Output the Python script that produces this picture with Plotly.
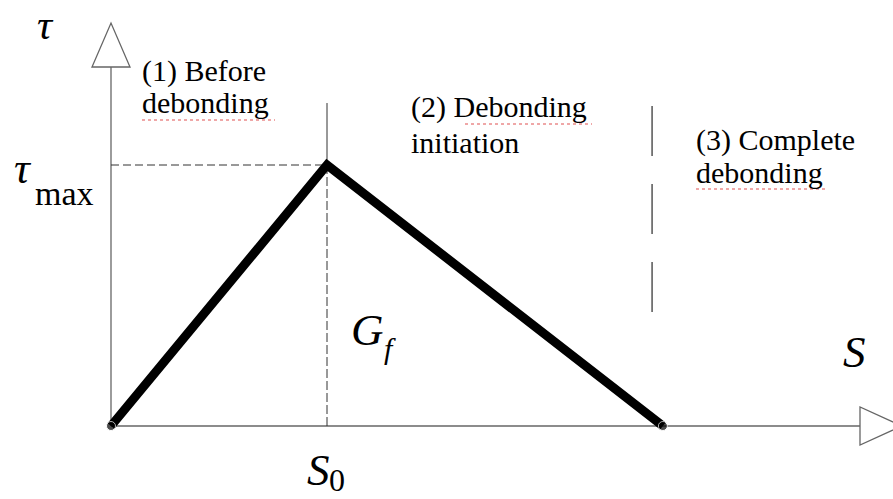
import plotly.graph_objects as go

# ---- data (schematic bilinear bond-slip law, normalised units) ----
slip_points = [0.0, 1.0, 2.555]      # 0, S0, Sf
stress_points = [0.0, 1.0, 0.0]      # 0, tau_max, 0
S0 = 1.0
tau_max = 1.0
zone_boundary = 2.505                 # boundary between zone (2) and (3)

zone_labels = [["(1) Before", "debonding"],
               ["(2) Debonding", "initiation"],
               ["(3) Complete", "debonding"]]

W, H = 893, 499
# axis ranges (plot area fills the whole figure)
x_range = [-0.5139, 3.6204]
y_range = [-0.2797, 1.6322]

def px(x):   # pixel column -> paper
    return x / W

def py(y):   # pixel row -> paper
    return 1 - y / H

AX = "#666666"

fig = go.Figure()

fig.add_trace(go.Scatter(
    x=slip_points, y=stress_points, mode="lines+markers",
    line=dict(color="black", width=9),
    marker=dict(color="black", size=[9, 0, 9]),
    hoverinfo="skip", showlegend=False))

# axes
y_top = 1.3755
x_end = 3.4676
fig.add_shape(type="line", xref="x", yref="y", x0=0, y0=0, x1=0, y1=y_top,
              layer="below", line=dict(color=AX, width=1.3))
fig.add_shape(type="line", xref="x", yref="y", x0=0, y0=0, x1=x_end, y1=0,
              layer="below", line=dict(color=AX, width=1.3))
# hollow arrow heads
hw_x = 19 / 216
hw_y = 19 / 261
fig.add_shape(type="path", xref="x", yref="y",
              path=f"M {-hw_x} {y_top} L {hw_x} {y_top} L 0 1.544 Z",
              fillcolor="white", line=dict(color=AX, width=1.3))
fig.add_shape(type="path", xref="x", yref="y",
              path=f"M {x_end} {-hw_y} L {x_end} {hw_y} L 3.662 0 Z",
              fillcolor="white", line=dict(color=AX, width=1.3))
# guide lines
fig.add_shape(type="line", xref="x", yref="y", x0=0, y0=tau_max, x1=S0, y1=tau_max,
              layer="below", line=dict(color="#333333", width=1, dash="8px,4px"))
fig.add_shape(type="line", xref="x", yref="y", x0=S0, y0=0, x1=S0, y1=tau_max,
              layer="below", line=dict(color="#333333", width=1, dash="9px,3px"))
fig.add_shape(type="line", xref="x", yref="y", x0=S0, y0=tau_max, x1=S0, y1=1.2375,
              layer="below", line=dict(color="#333333", width=1))
# zone (2)/(3) boundary: long dashes
fig.add_shape(type="line", xref="x", yref="y", x0=zone_boundary, y0=0.437,
              x1=zone_boundary, y1=1.2375, layer="below",
              line=dict(color="#555555", width=1.5, dash="50px,28px"))
# red spell-check underlines
for x0, x1, y in [(142, 275, 120), (465, 592, 124), (696, 828, 189)]:
    fig.add_shape(type="line", xref="paper", yref="paper",
                  x0=px(x0), x1=px(x1), y0=py(y), y1=py(y),
                  line=dict(color="#e05050", width=1.2, dash="dot"))


def add_text(text, x, y, size, anchor="left"):
    fig.add_annotation(text=text, xref="paper", yref="paper", x=px(x), y=py(y),
                       xanchor=anchor, yanchor="middle", showarrow=False,
                       font=dict(family="Liberation Serif", size=size, color="black"))

# zone labels
add_text(zone_labels[0][0], 140, 71, 30)
add_text(zone_labels[0][1], 140, 103, 30)
add_text(zone_labels[1][0], 409, 107, 30)
add_text(zone_labels[1][1], 409, 142, 30)
add_text(zone_labels[2][0], 694, 140, 30)
add_text(zone_labels[2][1], 694, 172, 30)

# symbols
add_text("<i>τ</i>", 45, 25, 42, anchor="center")
add_text("<i>τ</i>", 23, 168, 44, anchor="center")
add_text("max", 33, 193, 34)
add_text("<i>S</i>", 854, 352, 45, anchor="center")
add_text("<i>S</i>", 318, 470, 45, anchor="center")
add_text("0", 337, 480, 32, anchor="center")
add_text("<i>G</i>", 367, 330, 45, anchor="center")
add_text("<i>f</i>", 390, 348, 30, anchor="center")

fig.update_layout(
    width=W, height=H,
    margin=dict(l=0, r=0, t=0, b=0),
    paper_bgcolor="white", plot_bgcolor="white",
    xaxis=dict(range=x_range, visible=False, fixedrange=True),
    yaxis=dict(range=y_range, visible=False, fixedrange=True),
    showlegend=False)

fig.write_html("out.html",
               config={"displayModeBar": False},
               post_script="document.body.style.margin='0';document.body.style.overflow='hidden';")
